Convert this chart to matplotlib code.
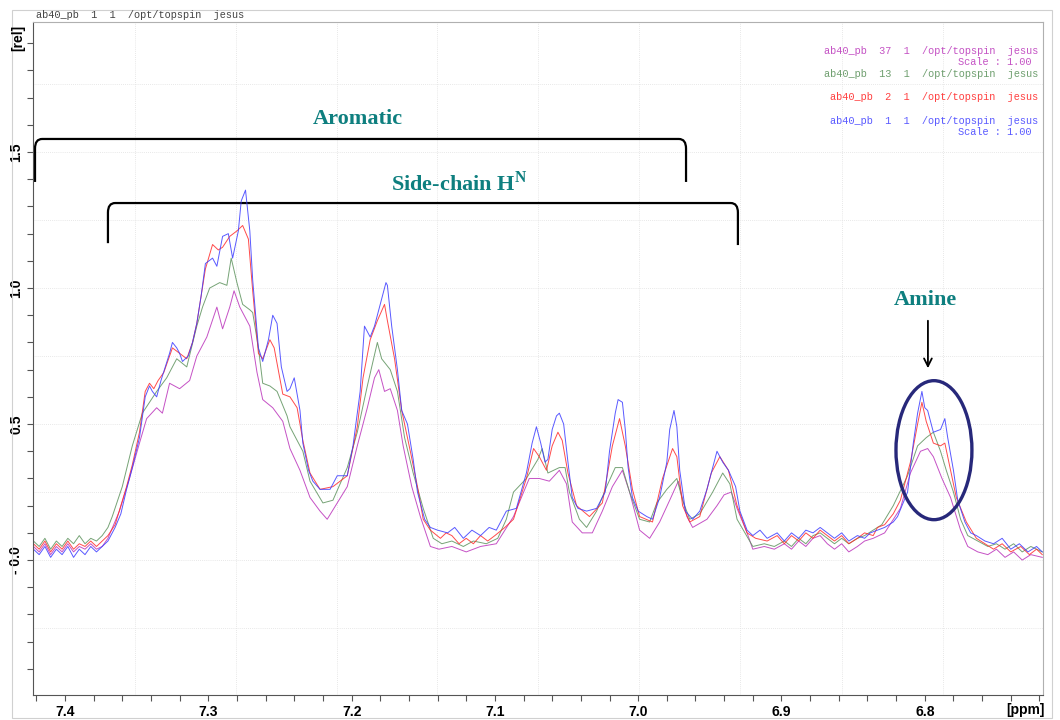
import matplotlib
matplotlib.use("Agg")
import matplotlib.pyplot as plt
from matplotlib.path import Path
from matplotlib.patches import PathPatch, Ellipse, Rectangle
import numpy as np

# ---- spectra: (ppm, rel. intensity) ----
blue = [(7.422, .04), (7.418, .02), (7.414, .05), (7.410, .01), (7.406, .04), (7.402, .02), (7.398, .05),
        (7.394, .01), (7.390, .04), (7.386, .02), (7.382, .05), (7.378, .03), (7.374, .05), (7.370, .07),
        (7.365, .12), (7.361, .17), (7.357, .26), (7.353, .34), (7.348, .45), (7.344, .60), (7.341, .64),
        (7.339, .62), (7.336, .60), (7.333, .66), (7.330, .71), (7.327, .76), (7.325, .80), (7.322, .78),
        (7.320, .76), (7.318, .73), (7.314, .75), (7.311, .80), (7.308, .87), (7.305, .97), (7.302, 1.09),
        (7.297, 1.11), (7.294, 1.08), (7.290, 1.19), (7.286, 1.20), (7.283, 1.11), (7.279, 1.21),
        (7.277, 1.32), (7.274, 1.36), (7.271, 1.21), (7.269, 1.03), (7.265, .78), (7.262, .73), (7.258, .81),
        (7.255, .90), (7.252, .87), (7.249, .71), (7.245, .62), (7.243, .63), (7.240, .67), (7.236, .55),
        (7.234, .43), (7.230, .33), (7.227, .29), (7.222, .26), (7.215, .26), (7.210, .31), (7.203, .31),
        (7.199, .42), (7.194, .62), (7.191, .86), (7.187, .82), (7.184, .86), (7.180, .94), (7.176, 1.02),
        (7.175, 1.01), (7.172, .86), (7.168, .70), (7.165, .55), (7.161, .50), (7.157, .37), (7.154, .25),
        (7.149, .15), (7.145, .12), (7.140, .11), (7.133, .10), (7.128, .12), (7.122, .08), (7.116, .11),
        (7.110, .09), (7.104, .12), (7.099, .11), (7.092, .18), (7.085, .19), (7.078, .32), (7.074, .43),
        (7.071, .49), (7.068, .43), (7.065, .36), (7.063, .37), (7.060, .48), (7.057, .53), (7.055, .54),
        (7.052, .50), (7.049, .36), (7.046, .23), (7.042, .19), (7.036, .18), (7.029, .19), (7.023, .25),
        (7.020, .40), (7.016, .54), (7.014, .59), (7.011, .58), (7.009, .48), (7.007, .34), (7.004, .23),
        (7.000, .18), (6.994, .16), (6.990, .15), (6.985, .23), (6.980, .36), (6.978, .48), (6.975, .55),
        (6.973, .49), (6.971, .33), (6.967, .18), (6.962, .15), (6.957, .18), (6.952, .26), (6.948, .34),
        (6.945, .40), (6.941, .36), (6.937, .33), (6.932, .27), (6.929, .18), (6.924, .11), (6.920, .09),
        (6.915, .11), (6.910, .08), (6.903, .10), (6.898, .07), (6.893, .10), (6.888, .08), (6.883, .11),
        (6.878, .10), (6.873, .12), (6.868, .10), (6.863, .08), (6.858, .10), (6.853, .07), (6.847, .09),
        (6.842, .08), (6.838, .10), (6.833, .11), (6.828, .12), (6.822, .14), (6.819, .16), (6.812, .25),
        (6.808, .43), (6.805, .54), (6.802, .62), (6.800, .56), (6.798, .55), (6.794, .47), (6.789, .48),
        (6.786, .52), (6.784, .45), (6.780, .33), (6.777, .22), (6.772, .14), (6.768, .10), (6.764, .09),
        (6.758, .07), (6.752, .06), (6.746, .08), (6.740, .04), (6.734, .06), (6.728, .03), (6.722, .05),
        (6.718, .03)]

red = [(7.422, .06), (7.418, .04), (7.414, .07), (7.410, .03), (7.406, .06), (7.402, .04), (7.398, .07),
       (7.394, .04), (7.390, .06), (7.386, .05), (7.382, .07), (7.378, .05), (7.374, .07), (7.370, .09),
       (7.365, .13), (7.361, .20), (7.357, .27), (7.353, .35), (7.348, .47), (7.344, .62), (7.341, .65),
       (7.338, .63), (7.335, .66), (7.331, .69), (7.327, .75), (7.325, .78), (7.320, .76), (7.315, .74),
       (7.311, .80), (7.308, .87), (7.305, .97), (7.302, 1.07), (7.297, 1.16), (7.293, 1.14), (7.290, 1.15),
       (7.285, 1.19), (7.280, 1.21), (7.276, 1.23), (7.272, 1.18), (7.269, .99), (7.265, .76), (7.262, .74),
       (7.257, .81), (7.254, .78), (7.248, .61), (7.243, .60), (7.238, .56), (7.234, .44), (7.229, .32),
       (7.222, .26), (7.213, .27), (7.203, .31), (7.196, .49), (7.192, .67), (7.187, .81), (7.182, .88),
       (7.177, .94), (7.175, .88), (7.170, .74), (7.165, .55), (7.159, .40), (7.154, .27), (7.150, .15),
       (7.145, .11), (7.138, .08), (7.134, .10), (7.130, .09), (7.125, .06), (7.120, .08), (7.115, .06),
       (7.110, .09), (7.105, .07), (7.100, .09), (7.093, .12), (7.087, .15), (7.078, .30), (7.073, .41),
       (7.069, .38), (7.064, .33), (7.060, .42), (7.056, .47), (7.053, .44), (7.049, .32), (7.043, .20),
       (7.034, .16), (7.025, .21), (7.018, .42), (7.013, .52), (7.009, .42), (7.004, .26), (6.999, .16),
       (6.990, .14), (6.983, .30), (6.976, .41), (6.973, .38), (6.969, .20), (6.964, .14), (6.957, .16),
       (6.949, .32), (6.943, .38), (6.937, .33), (6.931, .20), (6.924, .10), (6.918, .08), (6.910, .07),
       (6.903, .09), (6.898, .06), (6.893, .09), (6.888, .07), (6.883, .10), (6.878, .08), (6.873, .11),
       (6.868, .09), (6.863, .07), (6.858, .09), (6.853, .06), (6.847, .08), (6.842, .10), (6.836, .09),
       (6.833, .12), (6.828, .13), (6.822, .17), (6.817, .22), (6.810, .36), (6.805, .50), (6.802, .58),
       (6.799, .51), (6.794, .43), (6.789, .42), (6.786, .43), (6.782, .33), (6.778, .23), (6.771, .14),
       (6.764, .08), (6.758, .06), (6.752, .04), (6.746, .06), (6.740, .03), (6.733, .05), (6.727, .02),
       (6.722, .04), (6.718, .02)]

green = [(7.422, .07), (7.418, .05), (7.414, .08), (7.410, .04), (7.406, .07), (7.402, .05), (7.398, .08),
         (7.394, .06), (7.390, .09), (7.386, .06), (7.382, .08), (7.378, .07), (7.374, .09), (7.370, .12),
         (7.367, .16), (7.360, .27), (7.353, .42), (7.346, .54), (7.336, .62), (7.329, .67), (7.322, .74),
         (7.315, .71), (7.308, .86), (7.304, .93), (7.299, 1.00), (7.292, 1.02), (7.287, 1.01), (7.284, 1.11),
         (7.280, 1.02), (7.276, .94), (7.271, .92), (7.269, .91), (7.265, .78), (7.262, .65), (7.257, .64),
         (7.252, .62), (7.245, .53), (7.243, .49), (7.238, .44), (7.234, .40), (7.229, .29), (7.220, .21),
         (7.213, .22), (7.203, .34), (7.196, .47), (7.189, .64), (7.182, .80), (7.179, .74), (7.173, .70),
         (7.168, .62), (7.163, .45), (7.157, .32), (7.150, .19), (7.143, .08), (7.137, .06), (7.130, .07),
         (7.122, .05), (7.115, .07), (7.106, .06), (7.098, .08), (7.092, .15), (7.087, .25), (7.078, .30),
         (7.070, .37), (7.067, .41), (7.063, .32), (7.055, .34), (7.051, .34), (7.048, .25), (7.041, .15),
         (7.036, .12), (7.029, .18), (7.022, .27), (7.016, .34), (7.011, .34), (7.006, .25), (6.999, .15),
         (6.992, .14), (6.987, .21), (6.980, .26), (6.973, .30), (6.969, .22), (6.964, .15), (6.957, .17),
         (6.948, .25), (6.941, .32), (6.936, .28), (6.931, .15), (6.920, .05), (6.912, .06), (6.905, .05),
         (6.898, .07), (6.893, .05), (6.888, .08), (6.883, .06), (6.878, .09), (6.873, .10), (6.868, .08),
         (6.863, .06), (6.858, .08), (6.853, .06), (6.847, .08), (6.842, .09), (6.836, .11), (6.830, .13),
         (6.822, .20), (6.812, .31), (6.805, .42), (6.799, .45), (6.794, .47), (6.789, .40), (6.785, .33),
         (6.780, .25), (6.775, .15), (6.770, .09), (6.763, .07), (6.756, .05), (6.750, .06), (6.744, .04),
         (6.738, .06), (6.732, .03), (6.726, .05), (6.718, .03)]

magenta = [(7.422, .05), (7.418, .03), (7.414, .06), (7.410, .02), (7.406, .05), (7.402, .03), (7.398, .06),
           (7.394, .03), (7.390, .05), (7.386, .04), (7.382, .06), (7.378, .04), (7.374, .05), (7.370, .08),
           (7.362, .18), (7.355, .30), (7.348, .43), (7.343, .52), (7.336, .56), (7.332, .54), (7.327, .65),
           (7.320, .63), (7.313, .66), (7.308, .75), (7.301, .82), (7.294, .93), (7.290, .85), (7.285, .93),
           (7.282, .99), (7.278, .93), (7.271, .86), (7.266, .69), (7.262, .59), (7.255, .56), (7.248, .51),
           (7.243, .41), (7.236, .33), (7.229, .23), (7.222, .18), (7.217, .15), (7.210, .21), (7.203, .27),
           (7.196, .42), (7.189, .56), (7.184, .67), (7.181, .70), (7.177, .62), (7.173, .63), (7.168, .55),
           (7.164, .42), (7.158, .27), (7.152, .16), (7.145, .05), (7.139, .04), (7.130, .05), (7.120, .03),
           (7.110, .05), (7.099, .06), (7.087, .16), (7.076, .30), (7.069, .30), (7.062, .29), (7.055, .33),
           (7.050, .28), (7.046, .14), (7.039, .10), (7.032, .10), (7.025, .18), (7.018, .27), (7.011, .33),
           (7.006, .25), (6.999, .11), (6.992, .08), (6.985, .14), (6.978, .22), (6.972, .29), (6.966, .16),
           (6.962, .12), (6.952, .15), (6.945, .20), (6.940, .24), (6.935, .25), (6.931, .19), (6.924, .10),
           (6.920, .04), (6.912, .05), (6.905, .04), (6.898, .06), (6.893, .04), (6.888, .07), (6.883, .05),
           (6.878, .08), (6.873, .09), (6.868, .06), (6.863, .04), (6.858, .06), (6.853, .03), (6.847, .05),
           (6.842, .07), (6.836, .08), (6.828, .10), (6.817, .19), (6.810, .32), (6.803, .40), (6.798, .41),
           (6.794, .38), (6.788, .30), (6.782, .23), (6.775, .11), (6.770, .05), (6.763, .03), (6.756, .02),
           (6.750, .04), (6.744, .01), (6.738, .03), (6.732, .00), (6.726, .02), (6.718, .01)]

header = "ab40_pb  1  1  /opt/topspin  jesus"
legend_rows = [("ab40_pb  37  1  /opt/topspin  jesus", "#c452c4"),
               ("Scale : 1.00", "#c452c4"),
               ("ab40_pb  13  1  /opt/topspin  jesus", "#6f9f6f"),
               ("ab40_pb  2  1  /opt/topspin  jesus", "#ff4040"),
               ("ab40_pb  1  1  /opt/topspin  jesus", "#5a5aff"),
               ("Scale : 1.00", "#5a5aff")]

W, H = 1060, 720
fig = plt.figure(figsize=(W / 100, H / 100), dpi=100)
ax = fig.add_axes([33 / W, 1 - 695 / H, (1043 - 33) / W, (695 - 22) / H])

# outer light frame
fig.patches.append(Rectangle((12 / W, 1 - 718 / H), (1052 - 12) / W, (718 - 10) / H,
                             transform=fig.transFigure, fill=False, ec="#d0d0d0", lw=0.8))

# spectra
for data, col in [(magenta, "#bb33bb"), (green, "#5e935e"), (red, "#ff2b2b"), (blue, "#3c3cff")]:
    x = [p[0] for p in data]
    y = [p[1] for p in data]
    ax.plot(x, y, color=col, lw=0.7, alpha=0.85)

ax.set_xlim(7.4223, 6.7175)
ax.set_ylim(-0.496, 1.978)

# grid (TopSpin style, faint dotted)
for g in [7.3512, 7.2807, 7.2102, 7.1404, 7.0699, 6.9994, 6.9290, 6.8578, 6.7873]:
    ax.axvline(g, color="#e0e0e0", lw=0.6, ls=(0, (1, 1.5)), zorder=0)
for g in [-0.25, 0.0, 0.25, 0.5, 0.75, 1.0, 1.25, 1.5, 1.75]:
    ax.axhline(g, color="#e0e0e0", lw=0.6, ls=(0, (1, 1.5)), zorder=0)

# ticks
tick_font = ["Liberation Sans", "DejaVu Sans"]
xt = np.arange(6.72, 7.43, 0.02)
ax.set_xticks(xt)
ax.set_xticklabels([f"{t:.1f}" if abs(t * 10 - round(t * 10)) < 1e-6 else "" for t in xt],
                   fontsize=10, fontweight="bold", family=tick_font)
yt = np.arange(-0.4, 1.95, 0.1)
ylab = []
for t in yt:
    if abs(t * 2 - round(t * 2)) < 1e-6:
        ylab.append("- 0.0" if abs(t) < 1e-6 else f"{t:.1f}")
    else:
        ylab.append("")
ax.set_yticks(yt)
ax.set_yticklabels(ylab, fontsize=10, fontweight="bold", family=tick_font, rotation=90, va="center")
ax.tick_params(direction="out", length=4, width=0.8, color="#555555", pad=3)

for s in ["left", "bottom"]:
    ax.spines[s].set_color("#555555")
for s in ["top", "right"]:
    ax.spines[s].set_color("#b0b0b0")
    ax.spines[s].set_linewidth(0.8)

fig.text(18 / W, 1 - 38 / H, "[rel]", rotation=90, ha="center", va="center",
         fontsize=10, fontweight="bold", family=tick_font)
fig.text(1025 / W, 1 - 710 / H, "[ppm]", ha="center", va="center",
         fontsize=10, fontweight="bold", family=tick_font)

# header and legend in Courier-like mono
fig.text(36 / W, 1 - 15.5 / H, header, ha="left", va="center", fontsize=7.4,
         family="Liberation Mono", color="#444444")
for (txt, col), yy in zip(legend_rows, [51, 62, 74, 97, 121, 132]):
    xr = 1032 if txt.startswith("Scale") else 1038
    fig.text(xr / W, 1 - yy / H, txt, ha="right", va="center", fontsize=7.4,
             family="Liberation Mono", color=col)


def bracket(x0, x1, ytop, yb0, yb1):
    rx, ry = 0.005, 0.035
    verts = [(x0, yb0), (x0, ytop - ry), (x0, ytop), (x0 - rx, ytop),
             (x1 + rx, ytop), (x1, ytop), (x1, ytop - ry), (x1, yb1)]
    codes = [Path.MOVETO, Path.LINETO, Path.CURVE3, Path.CURVE3,
             Path.LINETO, Path.CURVE3, Path.CURVE3, Path.LINETO]
    ax.add_patch(PathPatch(Path(verts, codes), fill=False, ec="black", lw=1.6, clip_on=False))


plt.rcParams["mathtext.fontset"] = "custom"
plt.rcParams["mathtext.bf"] = "Liberation Serif:bold"
plt.rcParams["mathtext.rm"] = "Liberation Serif:bold"

teal = "#0e7f7f"
bracket(7.4209, 6.9666, 1.548, 1.39, 1.39)
ax.text(7.1955, 1.62, "Aromatic", ha="center", va="center", fontsize=16,
        fontweight="bold", family="Liberation Serif", color=teal)
bracket(7.370, 6.9304, 1.3125, 1.165, 1.158)
ax.text(7.125, 1.385, r"Side-chain H$^{\mathbf{N}}$", ha="center", va="center", fontsize=16,
        fontweight="bold", family="Liberation Serif", color=teal)

ax.text(6.7998, 0.955, "Amine", ha="center", va="center", fontsize=16,
        fontweight="bold", family="Liberation Serif", color=teal)
ax.annotate("", xy=(6.7978, 0.695), xytext=(6.7978, 0.89),
            arrowprops=dict(arrowstyle="->", color="black", lw=1.3, mutation_scale=14))
ax.add_patch(Ellipse((6.7936, 0.404), width=0.053, height=0.511, fill=False,
                     ec="#27287a", lw=2.4, zorder=5))

fig.savefig("out.png", dpi=100)
